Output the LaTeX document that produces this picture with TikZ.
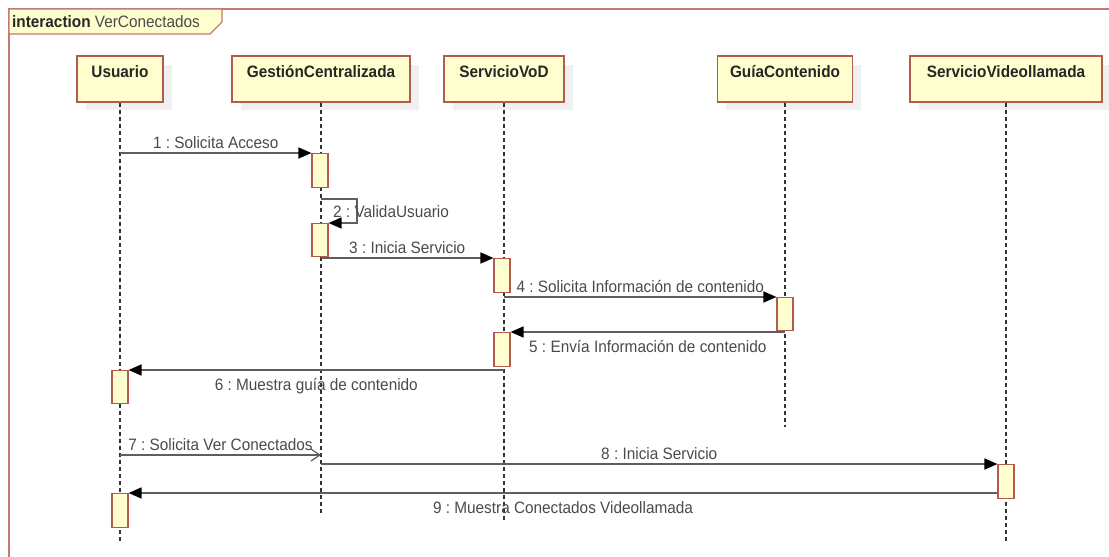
\documentclass[tikz,border=0pt]{standalone}
\usepackage{fontspec}
\setmainfont{Liberation Sans}[FakeStretch=0.93]
\usetikzlibrary{arrows.meta}
\frenchspacing
\definecolor{boxfill}{HTML}{FEFECE}
\definecolor{boxline}{HTML}{B55A52}
\definecolor{frameline}{HTML}{C07A78}
\definecolor{msgline}{HTML}{5E5E5E}
\definecolor{msgtext}{HTML}{4A4A4A}
\definecolor{shadowc}{HTML}{F0F0F0}
\tikzset{
  head/.style={draw=boxline, fill=boxfill, line width=1.3pt, inner xsep=0pt, inner ysep=0pt,
    text height=21pt, text depth=25pt, font=\fontsize{16.5}{18}\selectfont\bfseries, text=black!85},
  act/.style={draw=boxline, fill=boxfill, line width=1.1pt, minimum width=16pt, inner sep=0pt, anchor=north},
  life/.style={draw=black!80, line width=1.1pt, dash pattern=on 4pt off 3pt},
  msg/.style={draw=msgline, line width=1.6pt, -{Triangle[length=13pt,width=11pt,black]}},
  openmsg/.style={draw=msgline, line width=1.4pt, -{Straight Barb[length=9pt,width=12pt,line width=1.2pt]}},
  lbl/.style={font=\fontsize{16.5}{18}\selectfont\frenchspacing, text=msgtext, inner sep=0pt},
}
\begin{document}
\frenchspacing
\begin{tikzpicture}[x=1pt,y=-1pt]
\useasboundingbox (0,0) rectangle (1109,557);
% frame
\draw[frameline, line width=1.4pt] (1115,9) -- (9,9) -- (9,565);
\draw[frameline, line width=1.2pt, fill=boxfill] (9,9) -- (222,9) -- (222,22) -- (210,34) -- (9,34) -- cycle;
\node[anchor=west, inner sep=0pt, font=\fontsize{16.5}{18}\selectfont] (title) at (12,21.5)
  {\textbf{\color{black!85}interaction} \color{msgtext}VerConectados};
% shadows
\foreach \l/\r in {77/163, 232/410, 444/564, 717/852, 910/1102}
  \fill[shadowc] (\l+9,65) rectangle (\r+9,110);
% heads
\node[head, minimum width=86pt] (U) at (120,79) {Usuario};
\node[head, minimum width=178pt] (G) at (321,79) {GestiónCentralizada};
\node[head, minimum width=120pt] (V) at (504,79) {ServicioVoD};
\node[head, minimum width=135pt] (C) at (785,79) {GuíaContenido};
\node[head, minimum width=192pt] (L) at (1006,79) {ServicioVideollamada};
% lifeline ends
\coordinate (Ue) at (120,543);
\coordinate (Ge) at (321,513);
\coordinate (Ve) at (504,521);
\coordinate (Ce) at (785,427);
\coordinate (Le) at (1006,543);
\draw[life] (U.south) -- (Ue);
\draw[life] (G.south) -- (Ge);
\draw[life] (V.south) -- (Ve);
\draw[life] (C.south) -- (Ce);
\draw[life] (L.south) -- (Le);
% activations
\node[act, minimum height=34pt] (aG1) at (320,153) {};
\node[act, minimum height=33pt] (aG2) at (320,223) {};
\node[act, minimum height=34pt] (aV1) at (502,258) {};
\node[act, minimum height=33pt] (aC1) at (785,297) {};
\node[act, minimum height=34pt] (aV2) at (502,332) {};
\node[act, minimum height=33pt] (aU1) at (120,370) {};
\node[act, minimum height=34pt] (aL1) at (1006,464) {};
\node[act, minimum height=34pt] (aU2) at (120,493) {};
% message end points on lifelines
\coordinate (m1s) at (120,153);
\coordinate (m2s) at (321,199);
\coordinate (m3s) at (321,258);
\coordinate (m4s) at (504,297);
\coordinate (m5s) at (785,332);
\coordinate (m6s) at (504,370);
\coordinate (m7s) at (120,455);
\coordinate (m7e) at (321,455);
\coordinate (m8s) at (321,464);
% messages
\draw[msg] (m1s) -- (aG1.north west) node[lbl, midway, above=4pt] {1 : Solicita Acceso};
\draw[msg] (m2s) -- ++(36,0) |- (aG2.north east);
\node[lbl, anchor=west] (l2) at (333,212) {2 : ValidaUsuario};
\draw[msg] (m3s) -- (aV1.north west) node[lbl, midway, above=4pt] {3 : Inicia Servicio};
\draw[msg] (m4s) -- (aC1.north west) node[lbl, midway, above=4pt] {4 : Solicita Información de contenido};
\draw[msg] (m5s) -- (aV2.north east) node[lbl, midway, below=8pt] {5 : Envía Información de contenido};
\draw[msg] (m6s) -- (aU1.north east) node[lbl, midway, below=8pt] {6 : Muestra guía de contenido};
\draw[openmsg] (m7s) -- (m7e) node[lbl, midway, above=4pt] {7 : Solicita Ver Conectados};
\draw[msg] (m8s) -- (aL1.north west) node[lbl, midway, above=4pt] {8 : Inicia Servicio};
\draw[msg] (aL1.west |- aU2.north) -- (aU2.north east) node[lbl, midway, below=8pt] {9 : Muestra Conectados Videollamada};
\end{tikzpicture}
\end{document}
